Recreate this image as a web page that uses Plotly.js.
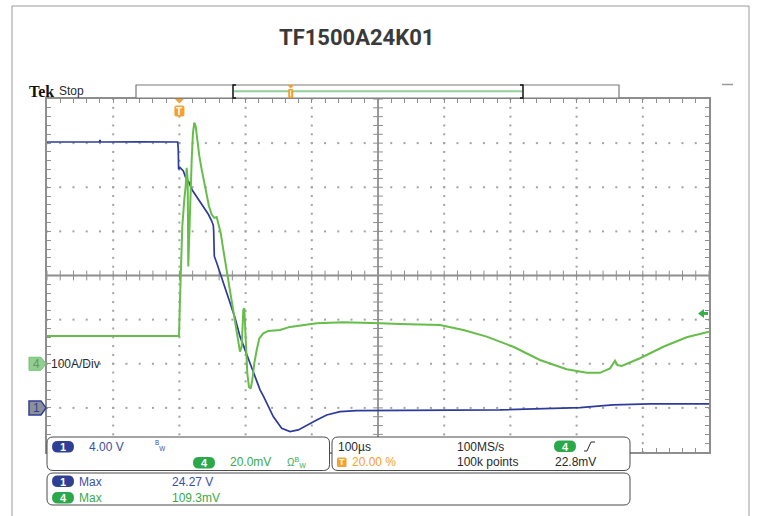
<!DOCTYPE html>
<html>
<head>
<meta charset="utf-8">
<script src="https://cdn.plot.ly/plotly-3.0.1.min.js"></script>
<style>
  html, body { margin: 0; padding: 0; background: #fff; }
  #scope { width: 758px; height: 516px; }
</style>
</head>
<body>
<div id="scope"></div>
<script>
// ---- Acquisition settings ----
const timePerDivUs = 100;        // 100 µs/div
const triggerPosPct = 20.0;      // trigger position, % of record
const ch1VoltsPerDiv = 4.0;      // CH1 4.00 V/div
const ch1GroundDiv = 1;          // CH1 ground marker, divisions above the bottom
const ch4MilliVoltsPerDiv = 20.0;// CH4 20.0 mV/div (100 A/div)
const ch4GroundDiv = 2;          // CH4 ground marker, divisions above the bottom
const triggerLevelMv = 22.8;     // CH4 rising-edge trigger level
const sampleRate = "100MS/s";
const recordLength = "100k points";

// ---- CH1: supply voltage (V) vs time (µs) ----
const ch1TimeUs = [-200, -160, -121, -120, -119, -60, -2.6, -1.7, -1.2, 0.9, 5.9, 9.5, 14.5, 18.6, 23.6, 28.5, 33.7,
  38.7, 43.7, 48.8, 51.2, 51.8, 52.3, 52.7, 56.3, 61.3, 68.9, 76.4, 84.0, 91.5, 99.1, 106.6, 114.2, 121.8, 126.7,
  141.8, 154.5, 167.1, 179.6, 192.3, 207.4, 222.5, 242.6, 267.8, 333.2, 484.3, 605.1, 655, 710.9, 800];
const ch1Volts = [24.10, 24.12, 24.10, 24.27, 24.10, 24.12, 24.10, 23.45, 21.64, 21.79, 21.48, 20.88, 20.43, 19.82, 19.36, 18.91, 18.45,
  18.0, 17.55, 16.94, 16.55, 16.0, 14.36, 13.75, 13.15, 12.25, 10.73, 9.52, 8.18, 6.48, 5.27, 4.06, 2.85, 1.64, 1.09,
  -0.79, -1.85, -2.15, -2.0, -1.55, -1.09, -0.64, -0.34, -0.25, -0.23, -0.18, 0.03, 0.27, 0.36, 0.36];

// ---- CH4: current probe output (mV) vs time (µs) ----
const ch4TimeUs = [-200, -0.6, 0.9, 2.4, 4.4, 7.4, 9.5, 11.0, 12.5, 13.4, 15.0, 16.5, 18.6, 20.5, 22.5, 24.6, 27.0, 30.1,
  33.7, 37.6, 41.2, 44.7, 48.8, 52.7, 56.3, 58.8, 62.4, 66.3, 70.4, 73.9, 77.9, 81.4, 85.5, 89.0, 91.5, 94.1, 95.6,
  96.5, 98.0, 99.1, 100.6, 102.6, 105.1, 107.7, 110.1, 113.1, 116.8, 120.7, 126.7, 134.3, 151.9, 167.1, 207.4, 247.6,
  303.0, 333.2, 393.7, 428.9, 464.2, 504.4, 544.6, 585.0, 615.3, 635.3, 650.5, 655.4, 658.0, 661.5, 668.1, 695.8,
  731.0, 766.3, 800];
const ch4MilliVolts = [12.6, 12.6, 29.0, 47.1, 62.3, 74.4, 80.5, 88.8, 83.5, 44.1, 59.3, 77.5, 92.6, 104.7, 109.3, 107.7,
  101.7, 94.1, 88.0, 82.0, 75.9, 71.4, 67.6, 66.1, 66.5, 63.8, 59.3, 51.7, 44.1, 38.0, 30.5, 22.9, 15.3, 9.3, 5.5, 7.7,
  16.8, 24.4, 25.2, 16.8, 4.7, -4.4, -10.5, -11.2, -7.4, 0.2, 6.2, 11.5, 13.8, 14.9, 15.3, 16.7, 18.4, 18.8, 18.4, 18.0,
  17.6, 15.3, 12.3, 7.7, 1.7, -2.5, -4.1, -4.1, -2.1, 0.5, 1.4, -0.6, -1.0, 2.5, 7.7, 12.0, 14.5];

// ---- screen geometry (pixels) ----
const W_PAGE = 758, H_PAGE = 516;
const L = 47, R = 709, T = 99, B = 452;
const PW = R - L, PH = B - T;
const DIVS_X = 10, DIVS_Y = 8, SUB = 5;

const fx = x => (x - L) / PW;
const fy = y => (B - y) / PH;

const tStart = -triggerPosPct / 100 * DIVS_X * timePerDivUs;
const tRange = [tStart, tStart + DIVS_X * timePerDivUs];
const ch1Range = [-ch1GroundDiv * ch1VoltsPerDiv, (DIVS_Y - ch1GroundDiv) * ch1VoltsPerDiv];
const ch4Range = [-ch4GroundDiv * ch4MilliVoltsPerDiv, (DIVS_Y - ch4GroundDiv) * ch4MilliVoltsPerDiv];
const yPxOf = (v, rng) => B - (v - rng[0]) / (rng[1] - rng[0]) * PH;

const BLUE = '#2d3c9a', GREEN = '#66bd4a', GREEN_TXT = '#3aa94c', BLUE_TXT = '#3b4ea6';
const ORANGE = '#f5a12c', GRID = '#8e8e8e', INK = '#2a2a2a';
const SANS = 'Liberation Sans, Arial, sans-serif';

// ---- graticule: dotted division lines, centre cross with sub-division ticks ----
const dotX = [], dotY = [];
for (let k = 1; k < DIVS_Y; k++) {
  if (k === DIVS_Y / 2) continue;
  for (let i = 0; i <= DIVS_X * SUB; i++) { dotX.push(i / SUB); dotY.push(k); }
}
for (let k = 1; k < DIVS_X; k++) {
  if (k === DIVS_X / 2) continue;
  for (let i = 0; i <= DIVS_Y * SUB; i++) { dotX.push(k); dotY.push(i / SUB); }
}
const tickHX = [], tickHY = [], tickVX = [], tickVY = [];
for (let i = 0; i <= DIVS_X * SUB; i++) { tickHX.push(i / SUB); tickHY.push(DIVS_Y / 2); }
for (let i = 0; i <= DIVS_Y * SUB; i++) { tickVX.push(DIVS_X / 2); tickVY.push(i / SUB); }

const traces = [
  { x: dotX, y: dotY, xaxis: 'x', yaxis: 'y', mode: 'markers', type: 'scatter',
    marker: { symbol: 'square', size: 2, color: '#a2a2a2' }, hoverinfo: 'skip' },
  { x: [DIVS_X / 2, DIVS_X / 2, null, 0, DIVS_X], y: [0, DIVS_Y, null, DIVS_Y / 2, DIVS_Y / 2],
    xaxis: 'x', yaxis: 'y', mode: 'lines', type: 'scatter', line: { color: GRID, width: 1.8 }, hoverinfo: 'skip' },
  { x: tickHX, y: tickHY, xaxis: 'x', yaxis: 'y', mode: 'markers', type: 'scatter',
    marker: { symbol: 'line-ns', size: 7, line: { color: GRID, width: 1 } }, hoverinfo: 'skip' },
  { x: tickVX, y: tickVY, xaxis: 'x', yaxis: 'y', mode: 'markers', type: 'scatter',
    marker: { symbol: 'line-ew', size: 7, line: { color: GRID, width: 1 } }, hoverinfo: 'skip' },
  // CH4 current
  { x: ch4TimeUs, y: ch4MilliVolts, xaxis: 'x2', yaxis: 'y3', mode: 'lines', type: 'scatter',
    line: { color: GREEN, width: 2 }, hoverinfo: 'skip' },
  // CH1 voltage
  { x: ch1TimeUs, y: ch1Volts, xaxis: 'x2', yaxis: 'y2', mode: 'lines', type: 'scatter',
    line: { color: BLUE, width: 1.7 }, hoverinfo: 'skip' }
];

// ---- helpers for screen furniture (pixel -> paper) ----
function P(pts) { return pts.map((p, i) => (i ? 'L' : 'M') + fx(p[0]) + ',' + fy(p[1])).join(' ') + ' Z'; }
function rr(x0, y0, x1, y1, r) {
  const a = (x, y) => fx(x) + ',' + fy(y);
  return 'M' + a(x0 + r, y0) + ' L' + a(x1 - r, y0) + ' Q' + a(x1, y0) + ' ' + a(x1, y0 + r) +
    ' L' + a(x1, y1 - r) + ' Q' + a(x1, y1) + ' ' + a(x1 - r, y1) +
    ' L' + a(x0 + r, y1) + ' Q' + a(x0, y1) + ' ' + a(x0, y1 - r) +
    ' L' + a(x0, y0 + r) + ' Q' + a(x0, y0) + ' ' + a(x0 + r, y0) + ' Z';
}
const shapes = [];
const annotations = [];
function path(d, fill, lc, lw) {
  shapes.push({ type: 'path', xref: 'paper', yref: 'paper', path: d, fillcolor: fill || 'rgba(0,0,0,0)',
    line: { color: lc || 'rgba(0,0,0,0)', width: lw || 0 }, layer: 'above' });
}
function seg(x0, y0, x1, y1, c, w) {
  shapes.push({ type: 'line', xref: 'paper', yref: 'paper', x0: fx(x0), y0: fy(y0), x1: fx(x1), y1: fy(y1),
    line: { color: c, width: w }, layer: 'above' });
}
function txt(s, x, y, o) {
  o = o || {};
  annotations.push({ xref: 'paper', yref: 'paper', x: fx(x), y: fy(y), text: s, showarrow: false,
    xanchor: o.anchor || 'left', yanchor: 'middle', borderpad: 0,
    font: { family: o.family || SANS, size: o.size || 12, color: o.color || INK, weight: o.weight || 'normal' } });
}
function pill(x, y, label, color) {
  path(rr(x, y, x + 22, y + 11.5, 5.75), color);
  txt(label, x + 11, y + 6, { anchor: 'center', color: '#fff', size: 11, weight: 'bold' });
}

// outer frame
path(P([[12, 6], [749, 6], [749, 530], [12, 530]]), null, '#9a9a9a', 1);
txt('TF1500A24K01', 356, 37, { anchor: 'center', size: 22, weight: 'bold', color: '#3a3a3a',
  family: 'Roboto, sans-serif' });
seg(722, 84.5, 733, 84.5, '#9a9a9a', 1.5);

// Tek / Stop
txt('Tek', 28, 91, { family: 'Liberation Serif, DejaVu Serif, serif', size: 16, weight: 'bold', color: '#111' });
txt('Stop', 58, 91.5, { size: 12 });

// record bar
path(P([[136, 85], [619, 85], [619, 98], [136, 98]]), '#fff', '#7a7a7a', 1.2);
seg(234, 91.3, 522, 91.3, '#8fd09c', 2);
shapes.push({ type: 'path', xref: 'paper', yref: 'paper', layer: 'above', line: { color: '#111', width: 1.5 },
  path: 'M' + fx(236) + ',' + fy(85) + ' L' + fx(233) + ',' + fy(85) + ' L' + fx(233) + ',' + fy(98) + ' L' + fx(236) + ',' + fy(98) +
    ' M' + fx(520) + ',' + fy(85) + ' L' + fx(523) + ',' + fy(85) + ' L' + fx(523) + ',' + fy(98) + ' L' + fx(520) + ',' + fy(98) });
const barTrigX = 290.7;
path(P([[barTrigX - 3.5, 85], [barTrigX + 3.5, 85], [barTrigX, 88.5]]), ORANGE);
path(rr(barTrigX - 2.5, 89, barTrigX + 2.5, 98, 1), ORANGE);
seg(barTrigX, 90.5, barTrigX, 96.5, '#fff', 1);

// trigger position marker on the graticule
const trigX = L + triggerPosPct / 100 * PW;
path(P([[trigX - 4.5, 99], [trigX + 4.5, 99], [trigX, 103.5]]), ORANGE);
path(rr(trigX - 5, 105.5, trigX + 5, 116.5, 2), ORANGE);
txt('T', trigX, 111.2, { anchor: 'center', size: 10, weight: 'bold', color: '#fff' });

// channel ground markers
const g4 = yPxOf(0, ch4Range), g1 = yPxOf(0, ch1Range);
path(P([[29, g4 - 6.5], [41, g4 - 6.5], [46, g4], [41, g4 + 6.5], [29, g4 + 6.5]]), '#8fd08f', '#74c174', 1);
txt('4', 36, g4 + 0.5, { anchor: 'center', size: 12, color: '#6f8f6f' });
txt('100A/Div', 50, g4 + 0.5, { size: 12 });
path(P([[29, g1 - 7], [41, g1 - 7], [46, g1], [41, g1 + 7], [29, g1 + 7]]), '#8c9098', '#2f3f98', 1.5);
txt('1', 36, g1 + 0.5, { anchor: 'center', size: 12, color: '#2f3f98' });

// trigger level arrow (right edge)
const trigY = yPxOf(triggerLevelMv, ch4Range);
path(P([[698, trigY], [704, trigY - 4.5], [704, trigY + 4.5]]), '#35b04a');
path(P([[703.5, trigY - 1.5], [708, trigY - 1.5], [708, trigY + 1.5], [703.5, trigY + 1.5]]), '#35b04a');

// readout boxes
path(rr(47, 437, 329.5, 470.5, 6), '#fff', '#4a4a4a', 1);
path(rr(332, 437, 630, 470.5, 6), '#fff', '#4a4a4a', 1);
path(rr(47, 473, 630, 505, 6), '#fff', '#4a4a4a', 1);

pill(52, 441, '1', '#2e3f94');
txt(ch1VoltsPerDiv.toFixed(2) + ' V', 88, 447, { color: BLUE_TXT });
txt('<sup>B</sup><sub>W</sub>', 154, 445, { color: BLUE_TXT, size: 9 });
pill(193, 457, '4', '#2aa84a');
txt(ch4MilliVoltsPerDiv.toFixed(1) + 'mV', 229, 462.5, { color: GREEN_TXT });
txt('Ω<sup>B</sup><sub>W</sub>', 286, 462, { color: GREEN_TXT, size: 10 });

txt(timePerDivUs + 'µs', 337, 446.5);
txt(sampleRate, 456, 446.5);
pill(554, 440.5, '4', '#2aa84a');
shapes.push({ type: 'path', xref: 'paper', yref: 'paper', layer: 'above', line: { color: INK, width: 1 },
  path: 'M' + fx(584) + ',' + fy(451) + ' L' + fx(587) + ',' + fy(451) + ' L' + fx(591) + ',' + fy(442) + ' L' + fx(595) + ',' + fy(442) });
path(rr(337, 457.5, 346.5, 467, 1.5), ORANGE);
txt('T', 341.8, 462.5, { anchor: 'center', size: 9, weight: 'bold', color: '#fff' });
txt(triggerPosPct.toFixed(2) + ' %', 350.5, 462.5, { color: ORANGE });
txt(recordLength, 456, 462.5);
txt(triggerLevelMv.toFixed(1) + 'mV', 554, 462.5);

const ch1Max = Math.max(...ch1Volts), ch4Max = Math.max(...ch4MilliVolts);
pill(52, 475.5, '1', '#2e3f94');
txt('Max', 77.5, 481.5, { color: BLUE_TXT });
txt(ch1Max.toFixed(2) + ' V', 170.5, 481.5, { color: BLUE_TXT });
pill(52, 492, '4', '#2aa84a');
txt('Max', 77.5, 498, { color: GREEN_TXT });
txt(ch4Max.toFixed(1) + 'mV', 170.5, 498, { color: GREEN_TXT });

const gratAxis = (n) => ({
  range: [0, n], showgrid: false, zeroline: false, showticklabels: false,
  ticks: 'inside', tick0: 0, dtick: 1, ticklen: 4, tickwidth: 1, tickcolor: GRID,
  showline: true, linecolor: GRID, linewidth: 2, mirror: 'ticks', fixedrange: true,
  minor: { dtick: 1 / SUB, ticks: 'inside', ticklen: 4, tickwidth: 1, tickcolor: GRID }
});

const layout = {
  width: W_PAGE, height: H_PAGE,
  margin: { l: L, r: W_PAGE - R, t: T, b: H_PAGE - B, pad: 0 },
  paper_bgcolor: '#fff', plot_bgcolor: '#fff',
  showlegend: false,
  xaxis: Object.assign(gratAxis(DIVS_X), { domain: [0, 1] }),
  yaxis: Object.assign(gratAxis(DIVS_Y), { domain: [0, 1] }),
  xaxis2: { overlaying: 'x', range: tRange, visible: false, fixedrange: true },
  yaxis2: { overlaying: 'y', anchor: 'x2', range: ch1Range, visible: false, fixedrange: true },
  yaxis3: { overlaying: 'y', anchor: 'x2', range: ch4Range, visible: false, fixedrange: true },
  shapes: shapes,
  annotations: annotations
};

Plotly.newPlot('scope', traces, layout, { staticPlot: true, displayModeBar: false });
</script>
</body>
</html>
